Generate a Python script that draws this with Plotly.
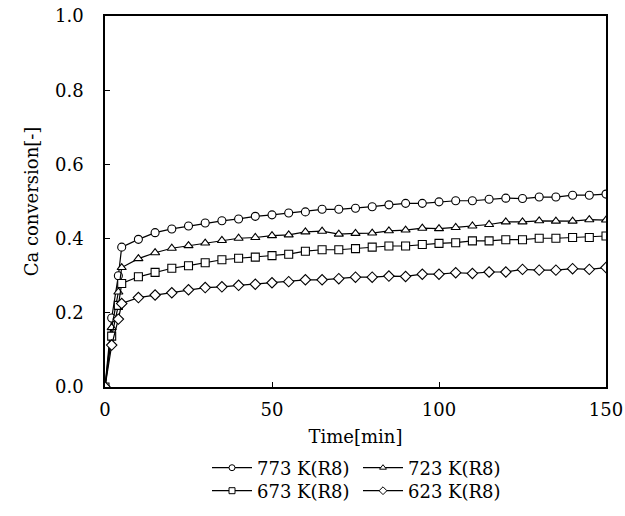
import plotly.graph_objects as go

# Reaction time [min]
time_min = [0, 2, 4, 5, 10, 15, 20, 25, 30, 35, 40, 45, 50, 55, 60, 65, 70,
            75, 80, 85, 90, 95, 100, 105, 110, 115, 120, 125, 130, 135, 140,
            145, 150]

# Ca conversion [-] at each temperature
conv_773 = [0.0, 0.186, 0.300, 0.377, 0.398, 0.416, 0.426, 0.434, 0.442, 0.448,
            0.453, 0.460, 0.464, 0.469, 0.472, 0.479, 0.479, 0.482, 0.486, 0.491,
            0.495, 0.495, 0.499, 0.502, 0.502, 0.506, 0.509, 0.508, 0.512, 0.512,
            0.517, 0.517, 0.520]
conv_723 = [0.0, 0.160, 0.256, 0.322, 0.346, 0.362, 0.374, 0.381, 0.388, 0.395,
            0.401, 0.403, 0.408, 0.410, 0.418, 0.420, 0.412, 0.414, 0.415, 0.421,
            0.423, 0.428, 0.427, 0.430, 0.434, 0.438, 0.445, 0.445, 0.448, 0.447,
            0.447, 0.451, 0.450]
conv_673 = [0.0, 0.137, 0.220, 0.279, 0.297, 0.309, 0.320, 0.327, 0.335, 0.343,
            0.347, 0.350, 0.354, 0.358, 0.366, 0.370, 0.370, 0.373, 0.377, 0.380,
            0.380, 0.384, 0.387, 0.389, 0.394, 0.394, 0.397, 0.397, 0.401, 0.401,
            0.403, 0.403, 0.407]
conv_623 = [0.0, 0.113, 0.183, 0.225, 0.241, 0.248, 0.254, 0.262, 0.268, 0.270,
            0.274, 0.277, 0.281, 0.284, 0.289, 0.289, 0.292, 0.296, 0.296, 0.299,
            0.298, 0.304, 0.304, 0.308, 0.306, 0.310, 0.310, 0.317, 0.315, 0.315,
            0.319, 0.317, 0.322]

series_names = ["773 K(R8)", "723 K(R8)", "673 K(R8)", "623 K(R8)"]
series_values = [conv_773, conv_723, conv_673, conv_623]
series_symbols = ["circle", "triangle-up", "square", "diamond"]
# two legend rows: first two series on the upper row, last two below
series_legends = ["legend", "legend", "legend2", "legend2"]

FONT = "DejaVu Serif, serif"
FSIZE = 18
base_font = dict(family=FONT, size=FSIZE, color="black")

fig = go.Figure()
for name, vals, sym in zip(series_names, series_values, series_symbols):
    fig.add_trace(go.Scatter(
        x=time_min, y=vals, mode="lines+markers", name=name, showlegend=False,
        line=dict(color="black", width=1.2),
        marker=dict(symbol=sym, size=8, color="white",
                    line=dict(color="black", width=1.1)),
    ))

# legend keys with smaller markers
for name, sym, lg in zip(series_names, series_symbols, series_legends):
    fig.add_trace(go.Scatter(
        x=[None], y=[None], mode="lines+markers", name=name, legend=lg,
        line=dict(color="black", width=1.2),
        marker=dict(symbol=sym, size=6, color="white",
                    line=dict(color="black", width=1)),
    ))

legend_style = dict(
    orientation="h", xref="container", yref="container",
    xanchor="left", yanchor="middle",
    entrywidth=96, itemwidth=40, tracegroupgap=0,
    font=base_font,
    bgcolor="rgba(0,0,0,0)", borderwidth=0,
)

fig.update_layout(
    width=625, height=516,
    margin=dict(l=105, r=19, t=16, b=129, autoexpand=False),
    paper_bgcolor="white", plot_bgcolor="white",
    font=base_font,
    xaxis=dict(
        range=[0, 150], tickvals=[0, 50, 100, 150],
        ticks="inside", ticklen=5, tickcolor="black",
        showline=True, linecolor="black", linewidth=1.5, mirror=True,
        showgrid=False, zeroline=False,
        tickfont=base_font,
        title=dict(text="Time[min]", standoff=11, font=base_font),
        ticklabelstandoff=6,
    ),
    yaxis=dict(
        range=[0, 1.0], tickvals=[0, 0.2, 0.4, 0.6, 0.8, 1.0],
        tickformat=".1f",
        ticks="inside", ticklen=5, tickcolor="black",
        showline=True, linecolor="black", linewidth=1.5, mirror=True,
        showgrid=False, zeroline=False,
        tickfont=base_font,
        title=dict(text="Ca conversion[-]", standoff=12, font=base_font),
        ticklabelstandoff=16,
    ),
    legend=dict(legend_style, x=207 / 625, y=1 - 468 / 516),
    legend2=dict(legend_style, x=207 / 625, y=1 - 491 / 516),
)

fig.write_html("out.html")
